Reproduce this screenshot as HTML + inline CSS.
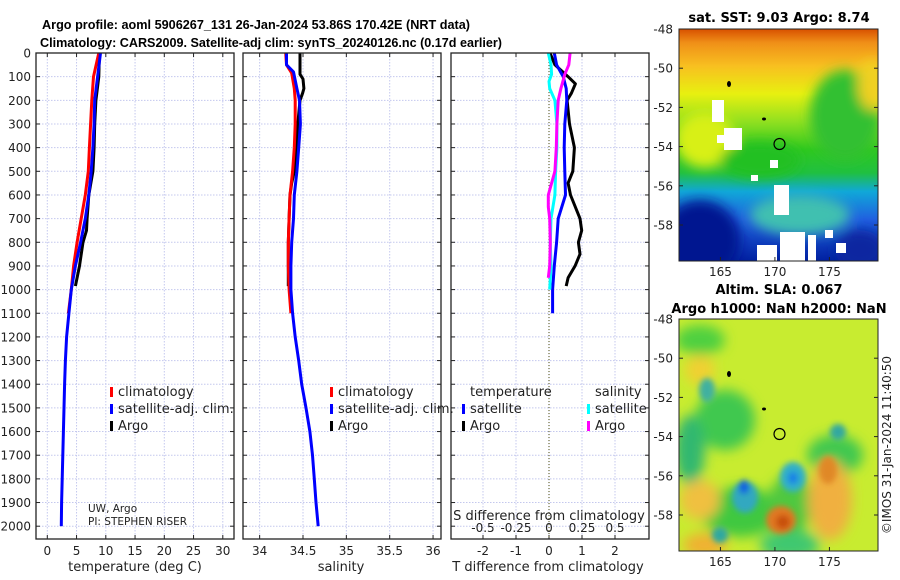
<!DOCTYPE html>
<html><head><meta charset="utf-8"><style>
html,body{margin:0;padding:0;background:#fff}
svg{display:block;font-family:"DejaVu Sans","Liberation Sans",sans-serif}
</style></head><body>
<svg id="fig" width="900" height="580" viewBox="0 0 900 580" xmlns="http://www.w3.org/2000/svg">
<defs>
<filter id="blr" x="-20%" y="-20%" width="140%" height="140%"><feGaussianBlur stdDeviation="6"/></filter>
<filter id="blr2" x="-20%" y="-20%" width="140%" height="140%"><feGaussianBlur stdDeviation="3"/></filter>
<clipPath id="cm1"><rect x="679" y="29" width="199" height="232"/></clipPath>
<clipPath id="cm2"><rect x="679" y="319" width="199" height="232"/></clipPath>
<linearGradient id="sstg" x1="0" y1="0" x2="0" y2="1">
<stop offset="0" stop-color="#d85000"/><stop offset="0.06" stop-color="#f09018"/><stop offset="0.16" stop-color="#f8c020"/><stop offset="0.28" stop-color="#e8f010"/><stop offset="0.4" stop-color="#90e020"/><stop offset="0.52" stop-color="#30c820"/><stop offset="0.62" stop-color="#20c040"/><stop offset="0.7" stop-color="#10a8d8"/><stop offset="0.82" stop-color="#2060e0"/><stop offset="1" stop-color="#0020a0"/>
</linearGradient>
</defs>
<g id="titles">
<text x="256" y="29" font-size="13" font-weight="bold" text-anchor="middle" textLength="428" lengthAdjust="spacingAndGlyphs" font-family="Liberation Sans, sans-serif">Argo profile: aoml 5906267_131 26-Jan-2024 53.86S 170.42E (NRT data)</text>
<text x="271" y="47" font-size="13" font-weight="bold" text-anchor="middle" textLength="462" lengthAdjust="spacingAndGlyphs" font-family="Liberation Sans, sans-serif">Climatology: CARS2009. Satellite-adj clim: synTS_20240126.nc (0.17d earlier)</text>
</g>
<g id="panels"></g>
<g id="maps">
<text x="779" y="22" font-size="13" font-weight="bold" text-anchor="middle">sat. SST: 9.03 Argo: 8.74</text>
<g clip-path="url(#cm1)">
<rect x="679" y="29" width="199" height="232" fill="url(#sstg)"/>
<g filter="url(#blr)">
<ellipse cx="705" cy="140" rx="30" ry="28" fill="#d8f018"/>
<ellipse cx="845" cy="115" rx="35" ry="45" fill="#30c030"/>
<ellipse cx="872" cy="85" rx="14" ry="25" fill="#f0d020"/>
<ellipse cx="700" cy="240" rx="40" ry="40" fill="#001890"/>
<ellipse cx="860" cy="250" rx="25" ry="20" fill="#0828a0"/>
<ellipse cx="800" cy="215" rx="50" ry="20" fill="#40c0b0"/>
<ellipse cx="760" cy="160" rx="40" ry="18" fill="#20c020"/>
</g>
<g fill="#fff">
<rect x="724" y="128" width="18" height="22"/><rect x="717" y="135" width="10" height="8"/>
<rect x="774" y="185" width="15" height="30"/><rect x="780" y="232" width="25" height="29"/><rect x="757" y="245" width="20" height="16"/>
<rect x="712" y="100" width="12" height="22"/><rect x="770" y="160" width="8" height="8"/><rect x="751" y="175" width="7" height="6"/>
<rect x="808" y="235" width="8" height="26"/><rect x="836" y="243" width="10" height="10"/><rect x="825" y="230" width="8" height="8"/>
</g>
<ellipse cx="779.5" cy="144" rx="5.5" ry="5.5" fill="none" stroke="#000" stroke-width="1.2"/>
<ellipse cx="729" cy="84" rx="2" ry="3" fill="#000"/><ellipse cx="764" cy="119" rx="2" ry="1.5" fill="#000"/>
</g>
<rect x="679" y="29" width="199" height="232" fill="none" stroke="#222" stroke-width="1"/>
<text x="779" y="294" font-size="13" font-weight="bold" text-anchor="middle">Altim. SLA: 0.067</text>
<text x="779" y="313" font-size="13" font-weight="bold" text-anchor="middle">Argo h1000: NaN h2000: NaN</text>
<g clip-path="url(#cm2)">
<rect x="679" y="319" width="199" height="232" fill="#c8ec30"/>
<g filter="url(#blr)">
<ellipse cx="700" cy="340" rx="25" ry="15" fill="#50d040"/>
<ellipse cx="725" cy="420" rx="30" ry="30" fill="#40c850"/>
<ellipse cx="690" cy="450" rx="15" ry="35" fill="#30b870"/>
<ellipse cx="740" cy="512" rx="40" ry="25" fill="#40c840"/>
<ellipse cx="790" cy="505" rx="22" ry="30" fill="#50c840"/>
<ellipse cx="835" cy="455" rx="28" ry="20" fill="#40c850"/>
<ellipse cx="700" cy="370" rx="15" ry="15" fill="#f0d030"/>
<ellipse cx="700" cy="500" rx="20" ry="20" fill="#f0c040"/>
<ellipse cx="830" cy="500" rx="22" ry="40" fill="#f0b040"/>
<ellipse cx="790" cy="545" rx="30" ry="15" fill="#40c870"/>
<ellipse cx="705" cy="545" rx="22" ry="12" fill="#f0b030"/>
</g>
<g filter="url(#blr2)">
<ellipse cx="745" cy="497" rx="13" ry="16" fill="#30a8c0"/>
<ellipse cx="744" cy="487" rx="5" ry="7" fill="#1060e0"/>
<ellipse cx="793" cy="477" rx="13" ry="15" fill="#30b0c8"/>
<ellipse cx="793" cy="478" rx="5" ry="6" fill="#1880e8"/>
<ellipse cx="781" cy="520" rx="15" ry="14" fill="#e07820"/>
<ellipse cx="783" cy="522" rx="7" ry="7" fill="#c85010"/>
<ellipse cx="828" cy="470" rx="9" ry="14" fill="#e08828"/>
<ellipse cx="720" cy="535" rx="8" ry="8" fill="#2fa8a0"/>
<ellipse cx="838" cy="432" rx="8" ry="8" fill="#30a8a0"/>
<ellipse cx="707" cy="390" rx="8" ry="12" fill="#40b0a0"/>
</g>
<ellipse cx="779.5" cy="434" rx="5.5" ry="5.5" fill="none" stroke="#000" stroke-width="1.2"/>
<ellipse cx="729" cy="374" rx="2" ry="3" fill="#000"/><ellipse cx="764" cy="409" rx="2" ry="1.5" fill="#000"/>
</g>
<rect x="679" y="319" width="199" height="232" fill="none" stroke="#222" stroke-width="1"/>
<text transform="translate(891,445) rotate(-90)" font-size="12" text-anchor="middle" fill="#222">©IMOS 31-Jan-2024 11:40:50</text>
</g>
</svg>
<script>
const depthT_argo=[0,100,200,300,400,500,600,700,750,800,900,985];
const temp_argo=[8.9,8.8,8.3,8.1,8.0,7.8,7.1,6.8,6.7,6.1,5.5,4.8];
const depthT_clim=[0,100,200,300,400,500,600,700,800,900,1000,1100];
const temp_clim=[8.8,7.9,7.6,7.4,7.2,7.0,6.5,5.8,5.1,4.5,4.1,3.6];
const depth_sat=[0,100,200,300,400,500,600,700,800,900,1000,1100,1200,1300,1400,1500,1600,1700,1800,1900,2000];
const temp_sat=[9.1,8.6,8.1,8.0,7.8,7.5,7.1,6.5,5.7,4.8,4.1,3.7,3.3,3.1,2.95,2.85,2.75,2.65,2.55,2.45,2.4];
const depthS_argo=[0,90,110,150,170,200,300,400,500,550,600,700,800,900,985];
const sal_argo=[34.465,34.465,34.50,34.51,34.495,34.465,34.44,34.43,34.40,34.37,34.35,34.34,34.33,34.33,34.33];
const depthS_clim=[0,50,85,150,200,300,400,500,600,700,800,900,1000,1100];
const sal_clim=[34.30,34.31,34.37,34.40,34.41,34.41,34.40,34.38,34.35,34.34,34.33,34.33,34.34,34.36];
const depthS_sat=[0,50,80,150,200,300,400,500,600,700,800,900,1000,1100,1200,1300,1400,1500,1600,1700,1800,1900,2000];
const sal_sat=[34.31,34.31,34.39,34.43,34.46,34.47,34.45,34.43,34.40,34.39,34.37,34.36,34.36,34.38,34.41,34.45,34.485,34.535,34.58,34.61,34.63,34.65,34.675];
const depthD_tsat=[0,50,100,150,200,300,400,500,600,700,800,900,1000,1100];
const dT_sat=[0.16,0.23,0.43,0.52,0.54,0.48,0.46,0.48,0.5,0.28,0.23,0.16,0.11,0.11];
const depthD_targo=[0,50,100,130,170,200,300,400,500,550,600,700,750,800,850,900,950,985];
const dT_argo=[0.03,0.18,0.58,0.8,0.68,0.55,0.62,0.77,0.72,0.58,0.65,0.94,0.99,0.89,0.94,0.79,0.58,0.52];
const depthD_ssat=[0,50,90,120,150,200,300,400,500,600,700,800,900,1000];
const dS_sat=[-0.005,0.015,0.02,0.0,0.005,0.045,0.06,0.06,0.05,0.045,0.015,0.01,0.015,0.005];
const depthD_sargo=[0,50,90,150,200,300,400,500,600,650,700,800,900,950];
const dS_argo=[0.16,0.15,0.12,0.09,0.07,0.06,0.055,0.045,-0.005,-0.005,0.005,0.01,0.005,-0.005];
const depthTicks=[0,100,200,300,400,500,600,700,800,900,1000,1100,1200,1300,1400,1500,1600,1700,1800,1900,2000];
const tempTicks=[0,5,10,15,20,25,30];
const salTicks=[34,34.5,35,35.5,36];
const salTickLabels=["34","34.5","35","35.5","36"];
const dTTicks=[-2,-1,0,1,2];
const dSTicks=[-0.5,-0.25,0,0.25,0.5];
const dSTickLabels=["-0.5","-0.25","0","0.25","0.5"];

const NS="http://www.w3.org/2000/svg";
const top0=53, bot=539;
const yD=d=>top0+d*0.2366;
const xT=v=>47.3+v*5.85;
const xS=v=>303+(v-34.5)*86.7;
const xDT=v=>549+v*33;
const xDS=v=>549+v*132;
const root=document.getElementById('panels');
function mk(tag,attrs,parent){const e=document.createElementNS(NS,tag);for(const k in attrs)e.setAttribute(k,attrs[k]);(parent||root).appendChild(e);return e;}
function txt(x,y,s,size,anchor,parent){const t=mk('text',{x:x,y:y,'font-size':size,'text-anchor':anchor||'middle',fill:'#222'},parent);t.textContent=s;return t;}

const panels=[{x0:36,x1:234,name:'temperature-panel'},{x0:243,x1:441,name:'salinity-panel'},{x0:451,x1:649,name:'difference-panel'}];
panels.forEach((p,i)=>{
  const g=mk('g',{});
  
  
  p.g=g;
  depthTicks.forEach(d=>{
    const l=mk('line',{x1:p.x0,x2:p.x1,y1:yD(d),y2:yD(d),stroke:'#c4c8ee','stroke-width':1,'stroke-dasharray':'1.5,1.5'},g);
    
    
    mk('line',{x1:p.x0,x2:p.x0+4,y1:yD(d),y2:yD(d),stroke:'#222'},g);
    mk('line',{x1:p.x1-4,x2:p.x1,y1:yD(d),y2:yD(d),stroke:'#222'},g);
  });
});
depthTicks.forEach(d=>{
  const t=txt(31,yD(d)+4.5,String(d),12,'end');
  
  
});
function vgrid(p,vals,fx,labels){
  vals.forEach((v,i)=>{
    const x=fx(v);
    const l=mk('line',{x1:x,x2:x,y1:top0,y2:bot,stroke:'#c4c8ee','stroke-width':1,'stroke-dasharray':'1.5,1.5'},p.g);
    
    
    mk('line',{x1:x,x2:x,y1:bot-4,y2:bot,stroke:'#222'},p.g);
    mk('line',{x1:x,x2:x,y1:top0,y2:top0+4,stroke:'#222'},p.g);
    const t=txt(x,555,labels?labels[i]:String(v),12,'middle',p.g);
    
    
  });
}
vgrid(panels[0],tempTicks,xT);
vgrid(panels[1],salTicks,xS,salTickLabels);
vgrid(panels[2],dTTicks,xDT);
dSTicks.forEach((v,i)=>{
  const t=txt(xDS(v),532,dSTickLabels[i],12,'middle',panels[2].g);
  
  
});
const z=mk('line',{x1:xDT(0),x2:xDT(0),y1:top0,y2:bot,stroke:'#6b6b3a','stroke-width':1.2,'stroke-dasharray':'1,2'},panels[2].g);



function series(p,ds,vs,fx,color,name){
  const pts=ds.map((d,i)=>fx(vs[i]).toFixed(1)+','+yD(d).toFixed(1)).join(' ');
  const pl=mk('polyline',{points:pts,fill:'none',stroke:color,'stroke-width':3,'stroke-linejoin':'round'},p.g);
  
  
}
series(panels[0],depthT_argo,temp_argo,xT,'#000','argo-temperature-line');
series(panels[0],depthT_clim,temp_clim,xT,'#f00','climatology-temperature-line');
series(panels[0],depth_sat,temp_sat,xT,'#00f','satellite-temperature-line');
series(panels[1],depthS_argo,sal_argo,xS,'#000','argo-salinity-line');
series(panels[1],depthS_clim,sal_clim,xS,'#f00','climatology-salinity-line');
series(panels[1],depthS_sat,sal_sat,xS,'#00f','satellite-salinity-line');
series(panels[2],depthD_targo,dT_argo,xDT,'#000','argo-temp-diff-line');
series(panels[2],depthD_tsat,dT_sat,xDT,'#00f','satellite-temp-diff-line');
series(panels[2],depthD_ssat,dS_sat,xDS,'#0ff','satellite-sal-diff-line');
series(panels[2],depthD_sargo,dS_argo,xDS,'#f0f','argo-sal-diff-line');

panels.forEach(p=>{mk('rect',{x:p.x0,y:top0,width:p.x1-p.x0,height:bot-top0,fill:'none',stroke:'#222','stroke-width':1.3},p.g);});

function legendEntry(g,mx,tx,y,color,label){
  const m=mk('rect',{x:mx,y:y-9,width:3,height:10,fill:color},g);
  
  
  const t=txt(tx,y,label,13,'start',g);
  
  
}
[[0,110,118],[1,330,338]].forEach(([i,mx,tx])=>{
  const g=mk('g',{},panels[i].g);
  
  
  legendEntry(g,mx,tx,396,'#f00','climatology');
  legendEntry(g,mx,tx,413,'#00f','satellite-adj. clim.');
  legendEntry(g,mx,tx,430,'#000','Argo');
});
const lg=mk('g',{},panels[2].g);


txt(470,396,'temperature',13,'start',lg);
legendEntry(lg,462,470,413,'#00f','satellite');
legendEntry(lg,462,470,430,'#000','Argo');
txt(595,396,'salinity',13,'start',lg);
legendEntry(lg,587,595,413,'#0ff','satellite');
legendEntry(lg,587,595,430,'#f0f','Argo');
let t;
t=txt(549,520,'S difference from climatology',13,'middle',panels[2].g);


t=txt(135,571,'temperature (deg C)',13,'middle');


t=txt(341,571,'salinity',13,'middle');


t=txt(548,571,'T difference from climatology',13,'middle');


t=txt(88,512,'UW, Argo',10.5,'start');


t=txt(88,525,'PI: STEPHEN RISER',10.5,'start');



const latTicks=[-48,-50,-52,-54,-56,-58];
const lonTicks=[165,170,175];
const mx=lon=>679+(lon-161.2)*10.9;
[29,319].forEach((y0,k)=>{
  const g=mk('g',{},document.getElementById('maps'));
  
  
  latTicks.forEach(l=>{
    const y=y0+(-48-l)*19.6;
    mk('line',{x1:679,x2:683,y1:y,y2:y,stroke:'#222'},g);
    mk('line',{x1:874,x2:878,y1:y,y2:y,stroke:'#222'},g);
    txt(673,y+4.5,String(l),12,'end',g);
  });
  lonTicks.forEach(l=>{
    const x=mx(l);
    mk('line',{x1:x,x2:x,y1:y0+228,y2:y0+232,stroke:'#222'},g);
    txt(x,y0+247,String(l),12,'middle',g);
  });
});
</script>
</body></html>
